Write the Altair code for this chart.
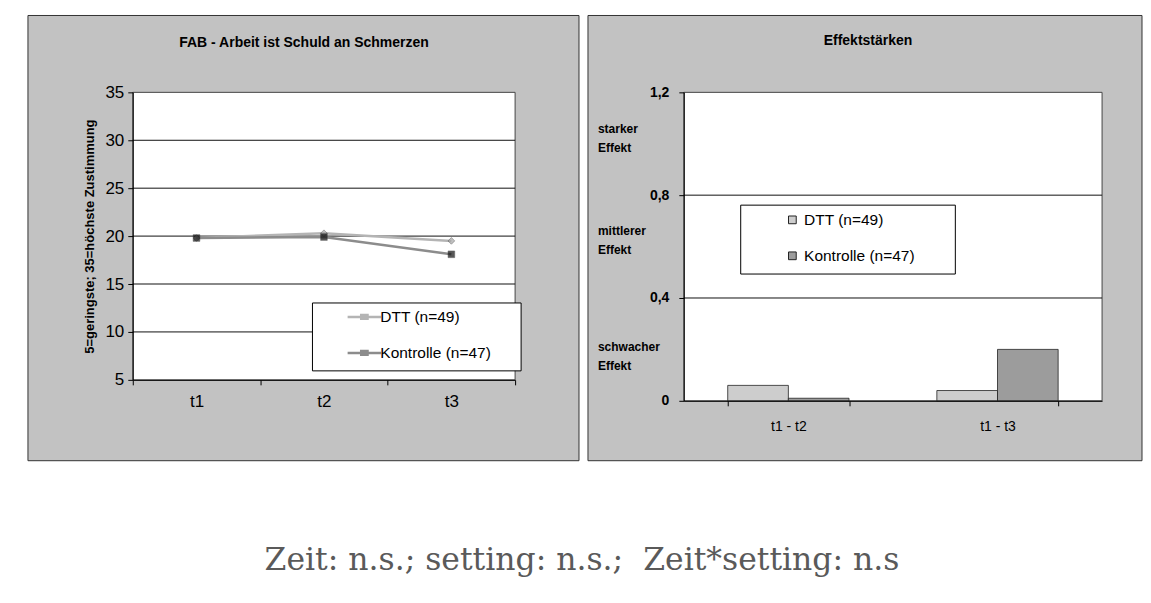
import altair as alt
import pandas as pd

# ---------------- data ----------------
title_left = "FAB - Arbeit ist Schuld an Schmerzen"
title_right = "Effektstärken"
y_title_left = "5=geringste; 35=höchste Zustimmung"
footer_text = "Zeit: n.s.; setting: n.s.;\u00a0 Zeit*setting: n.s"

groups = ["DTT (n=49)", "Kontrolle (n=47)"]
times = ["t1", "t2", "t3"]
dtt_means = [19.8, 20.3, 19.5]
kon_means = [19.8, 19.9, 18.1]
left_ticks = [5, 10, 15, 20, 25, 30, 35]
left_grid = [10, 15, 20, 25, 30]

pairs = ["t1 - t2", "t1 - t3"]
dtt_es = [0.06, 0.04]
kon_es = [0.01, 0.2]
right_ticks = [0, 0.4, 0.8, 1.2]
right_grid = [0.4, 0.8]
effect_labels = [["starker", "Effekt"], ["mittlerer", "Effekt"], ["schwacher", "Effekt"]]
effect_pos = [1.02, 0.62, 0.17]

FONT = "Liberation Sans"
PANEL = "#c2c2c2"

W1, H1 = 383, 288
W2, H2 = 419, 309

line_df = pd.DataFrame({
    "time": times * 2,
    "group": [groups[0]] * 3 + [groups[1]] * 3,
    "value": dtt_means + kon_means,
})
bar_df = pd.DataFrame({
    "pair": pairs * 2,
    "group": [groups[0]] * 2 + [groups[1]] * 2,
    "value": dtt_es + kon_es,
})
one = pd.DataFrame({"k": [0]})


def box(x0, x1, y0, y1, fill, stroke="#333"):
    """Decorative frame (panel background, plot area, legend box)."""
    return alt.Chart(one).mark_rect(fill=fill, stroke=stroke, strokeWidth=1).encode(
        x=alt.value(x0), x2=alt.value(x1), y=alt.value(y0), y2=alt.value(y1))


# ---------------- left panel ----------------
y_axis_left = alt.Axis(values=left_ticks, grid=False, zindex=1, labelFont=FONT,
                       labelFontSize=17, labelColor="black", tickColor="black",
                       tickSize=5, labelPadding=4, domainColor="black",
                       title=y_title_left, titleFont=FONT, titleFontSize=13,
                       titleFontWeight="bold", titleColor="black", titlePadding=8)
y_left = lambda f: alt.Y(f, scale=alt.Scale(domain=[5, 35], nice=False, zero=False),
                         axis=y_axis_left)
x_left = alt.X("time:N", bandPosition=0.5,
               scale=alt.Scale(type="band", domain=times, paddingInner=0, paddingOuter=0),
               axis=alt.Axis(title=None, tickBand="extent", labelAngle=0, zindex=1,
                             labelFont=FONT, labelFontSize=17, labelColor="black",
                             tickColor="black", tickSize=5, labelPadding=9,
                             domainColor="black"))

bg_left = box(-105, W1 + 64, -77, H1 + 81, PANEL)
plot_left = box(0, W1, 0, H1, "white", "#444")
legbox_left = box(180, 389, 211, 279, "white", "black")
head_left = alt.Chart(pd.DataFrame({"t": [title_left]})).mark_text(
    font=FONT, fontSize=14, fontWeight="bold", color="black", baseline="middle",
    align="center").encode(x=alt.value(W1 / 2 - 20), y=alt.value(-49), text="t:N")
grid_left = alt.Chart(pd.DataFrame({"v": left_grid})).mark_rule(
    color="#111", strokeWidth=1).encode(y=y_left("v:Q"))

legend_symbol = ("M-1.6,0H1.6M-0.3,-0.3V0.3M-0.18,-0.3V0.3M-0.06,-0.3V0.3"
                 "M0.06,-0.3V0.3M0.18,-0.3V0.3M0.3,-0.3V0.3")
lines = alt.Chart(line_df).mark_line(strokeWidth=2.5).encode(
    x=x_left,
    y=y_left("value:Q"),
    color=alt.Color("group:N", scale=alt.Scale(domain=groups, range=["#b4b4b4", "#8c8c8c"]),
                    legend=alt.Legend(title=None, orient="none", legendX=180, legendY=205,
                                      padding=8,
                                      labelFont=FONT, labelFontSize=15.5, labelColor="black",
                                      rowPadding=15, symbolOffset=32, labelOffset=4,
                                      symbolType=legend_symbol,
                                      symbolSize=440, symbolStrokeWidth=2.5)),
)
points = alt.Chart(line_df).mark_point(filled=True, size=45, stroke="#222", strokeWidth=0.5).encode(
    x=x_left,
    y=y_left("value:Q"),
    shape=alt.Shape("group:N", scale=alt.Scale(domain=groups, range=["diamond", "square"]),
                    legend=None),
    fill=alt.Fill("group:N", scale=alt.Scale(domain=groups, range=["#a8a8a8", "#111111"]),
                  legend=None),
)

left = alt.layer(bg_left, plot_left, head_left, grid_left, lines, points,
                 legbox_left).resolve_scale(fill="independent").properties(width=W1, height=H1)

# ---------------- right panel ----------------
y_axis_right = alt.Axis(values=right_ticks, grid=False, zindex=1, labelFont=FONT,
                        labelFontSize=14, labelFontWeight="bold", labelColor="black",
                        tickColor="black", tickSize=5, labelPadding=10, domainColor="black",
                        labelExpr="datum.value == 0 ? '0' : replace(format(datum.value, '.1f'), '.', ',')",
                        title=None)
y_right = lambda f: alt.Y(f, scale=alt.Scale(domain=[0, 1.2], nice=False), axis=y_axis_right)

bg_right = box(-96, W2 + 40, -77, H2 + 60, PANEL)
plot_right = box(0, W2, 0, H2, "white", "#444")
legbox_right = box(57, 272, 113, 182, "white", "black")
head_right = alt.Chart(pd.DataFrame({"t": [title_right]})).mark_text(
    font=FONT, fontSize=14, fontWeight="bold", color="black", baseline="middle",
    align="center").encode(x=alt.value(W2 / 2 - 25), y=alt.value(-51), text="t:N")
grid_right = alt.Chart(pd.DataFrame({"v": right_grid})).mark_rule(
    color="#111", strokeWidth=1).encode(y=y_right("v:Q"))

bars = alt.Chart(bar_df).mark_bar(stroke="#222", strokeWidth=0.8).encode(
    x=alt.X("pair:N", scale=alt.Scale(domain=pairs, paddingInner=0.42, paddingOuter=0.21),
            axis=alt.Axis(title=None, tickBand="extent", labelAngle=0, zindex=1,
                          labelFont=FONT, labelFontSize=14, labelColor="black",
                          tickColor="black", tickSize=5, labelPadding=14,
                          domainColor="black")),
    xOffset=alt.XOffset("group:N", scale=alt.Scale(domain=groups)),
    y=y_right("value:Q"),
    fill=alt.Fill("group:N", scale=alt.Scale(domain=groups, range=["#cdcdcd", "#9c9c9c"]),
                  legend=alt.Legend(title=None, orient="none", legendX=57, legendY=111,
                                    padding=9,
                                    labelFont=FONT, labelFontSize=15.5, labelColor="black",
                                    rowPadding=19, symbolOffset=35, labelOffset=4,
                                    symbolType="square", symbolSize=60,
                                    symbolStrokeColor="#222", symbolStrokeWidth=1)),
)

effect_df = pd.DataFrame({"label": effect_labels, "pos": effect_pos})
effect_text = alt.Chart(effect_df).mark_text(
    align="left", baseline="middle", font=FONT, fontSize=12, fontWeight="bold",
    color="black", lineHeight=19, dy=-10).encode(
    x=alt.value(-86), y=y_right("pos:Q"), text="label:N")

right = alt.layer(bg_right, plot_right, head_right, grid_right, bars, effect_text,
                  legbox_right).properties(width=W2, height=H2)

chart = alt.hconcat(left, right, spacing=7).resolve_scale(
    color="independent", fill="independent", y="independent", x="independent"
).resolve_legend(color="independent", fill="independent").properties(
    title=alt.TitleParams(footer_text, orient="bottom", anchor="middle",
                          font="DejaVu Serif", fontSize=31.5, fontWeight="normal",
                          color="#5a5a5a", offset=84, dx=-3),
    padding={"left": 19, "top": 6, "right": 0, "bottom": 0},
    background="white",
).configure_view(stroke=None)

chart.save("out.html", embed_options={"renderer": "svg", "actions": False})
